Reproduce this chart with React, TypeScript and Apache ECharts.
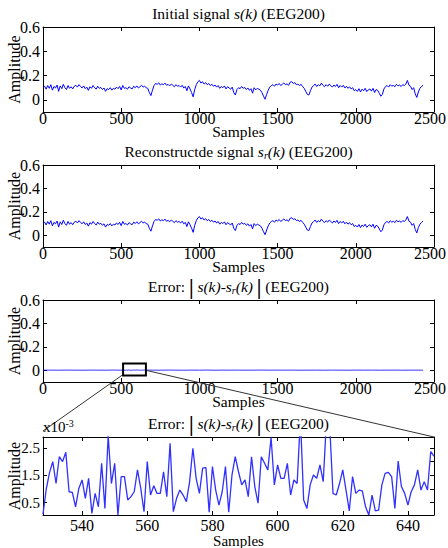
import React, { useEffect, useRef } from 'react';
import * as echarts from 'echarts';

const FONT = "'Liberation Serif', 'Times New Roman', serif";

// Initial signal s(k), one value every SIGNAL_STEP samples
const SIGNAL_STEP = 10;
const initialSignal = [
  0.100, 0.112, 0.088, 0.118, 0.095, 0.125, 0.080, 0.110, 0.098, 0.122,
  0.070, 0.115, 0.092, 0.128, 0.100, 0.085, 0.118, 0.095, 0.108, 0.090,
  0.112, 0.120, 0.105, 0.125, 0.110, 0.098, 0.115, 0.092, 0.105, 0.078,
  0.108, 0.095, 0.118, 0.100, 0.088, 0.112, 0.095, 0.102, 0.085, 0.098,
  0.070, 0.092, 0.085, 0.100, 0.080, 0.095, 0.088, 0.105, 0.092, 0.110,
  0.082, 0.118, 0.095, 0.100, 0.088, 0.108, 0.098, 0.090, 0.112, 0.100,
  0.115, 0.098, 0.108, 0.120, 0.105, 0.112, 0.100, 0.095, 0.060, 0.035,
  0.080, 0.118, 0.135, 0.128, 0.140, 0.122, 0.132, 0.125, 0.138, 0.120,
  0.128, 0.115, 0.130, 0.120, 0.108, 0.125, 0.112, 0.118, 0.105, 0.120,
  0.098, 0.110, 0.075, 0.115, 0.090, 0.060, 0.025, 0.085, 0.125, 0.148,
  0.160, 0.138, 0.150, 0.130, 0.142, 0.125, 0.135, 0.118, 0.128, 0.112,
  0.122, 0.105, 0.118, 0.095, 0.110, 0.100, 0.115, 0.090, 0.108, 0.098,
  0.088, 0.105, 0.060, 0.040, 0.085, 0.100, 0.092, 0.110, 0.095, 0.102,
  0.085, 0.098, 0.078, 0.092, 0.055, 0.100, 0.082, 0.095, 0.088, 0.080,
  0.060, 0.030, 0.005, 0.045, 0.080, 0.105, 0.118, 0.125, 0.112, 0.130,
  0.122, 0.135, 0.118, 0.128, 0.140, 0.125, 0.132, 0.120, 0.145, 0.150,
  0.135, 0.142, 0.125, 0.130, 0.118, 0.128, 0.110, 0.095, 0.070, 0.045,
  0.040, 0.075, 0.105, 0.118, 0.130, 0.110, 0.125, 0.115, 0.138, 0.120,
  0.108, 0.125, 0.112, 0.130, 0.118, 0.105, 0.122, 0.110, 0.128, 0.100,
  0.118, 0.105, 0.120, 0.098, 0.112, 0.095, 0.108, 0.090, 0.100, 0.075,
  0.085, 0.070, 0.092, 0.065, 0.088, 0.075, 0.095, 0.068, 0.082, 0.090,
  0.072, 0.095, 0.060, 0.085, 0.078, 0.055, 0.030, 0.045, 0.090, 0.110,
  0.118, 0.105, 0.125, 0.112, 0.120, 0.108, 0.128, 0.115, 0.122, 0.110,
  0.125, 0.118, 0.130, 0.160, 0.120, 0.112, 0.085, 0.100, 0.050, 0.020,
  0.065, 0.095, 0.110, 0.120,
];
// Reconstructed signal s_r(k): indistinguishable from s(k) at this scale
const reconstructedSignal = initialSignal;

// Error |s(k)-s_r(k)| overview, in units of 1e-3, every 50 samples
const ERROR_OVERVIEW_STEP = 50;
const errorOverviewMilli = [
  0.9, 1.4, 0.6, 1.8, 1.1, 0.7, 1.5, 1.2, 0.8, 1.9,
  1.0, 1.3, 0.5, 1.6, 1.1, 0.9, 1.7, 1.2, 0.6, 1.4,
  1.0, 1.8, 0.7, 1.3, 1.1, 1.5, 0.8, 1.2, 1.9, 0.9,
  1.4, 1.0, 1.6, 0.7, 1.2, 1.3, 0.8, 1.5, 1.1, 0.6,
  1.7, 1.0, 1.4, 0.9, 1.2, 1.6, 0.8, 1.3, 1.1,
];
const errorLastSample = 2430;
const errorLastMilli = 1.0;

// Zoomed error, samples 528..648, units of 1e-3
const ZOOM_START = 528;
const errorZoomMilli = [
  0.08, 1.0, 1.6, 2.0, 1.2, 2.18, 2.0, 2.34, 0.9, 0.88,
  0.35, 1.02, 1.33, 0.66, 1.39, 0.11, 0.84, 0.35, 1.94, 0.29,
  2.95, 1.2, 1.94, 0.05, 1.45, 1.45, 0.6, 0.72, 0.9, 1.7,
  1.02, 0.17, 2.0, 0.78, 1.12, 0.84, 0.84, 1.63, 0.72, 2.67,
  0.17, 0.66, 0.96, 0.78, 0.54, 1.27, 2.49, 1.39, 0.84, 1.76,
  1.78, 0.15, 1.82, 0.96, 0.41, 0.9, 1.82, 0.15, 1.51, 2.18,
  1.63, 1.15, 1.33, 0.72, 2.18, 1.09, 0.48, 2.18, 1.94, 1.7,
  2.88, 1.15, 1.88, 1.39, 1.39, 1.94, 0.78, 1.33, 1.2, 3.6,
  0.6, 0.29, 1.15, 1.51, 1.39, 1.88, 1.27, 3.5, 3.3, 0.84,
  0.78, 1.2, 1.7, 0.96, 0.2, 1.45, 0.84, 0.96, 0.93, 0.35,
  0.05, 0.78, 0.2, 0.23, 1.15, 1.57, 1.61, 1.45, 0.29, 2.02,
  1.09, 0.84, 0.41, 0.9, 1.15, 1.7, 0.96, 1.27, 0.96, 2.37,
  2.2,
];

const xTicksFull = [0, 500, 1000, 1500, 2000, 2500];
const yTicksFull = [0, 0.2, 0.4, 0.6];
const xTicksZoom = [540, 560, 580, 600, 620, 640];
const yTicksZoom = [0.5, 1, 1.5, 2, 2.5];

// region of panel 3 outlined by the zoom box (data units)
const zoomBox = { x0: 512, x1: 658, y0: -0.045, y1: 0.058 };

const titleTexts = [
  '{n|Initial signal }{it|s(k)}{n| (EEG200)}',
  '{n|Reconstructde signal }{it|s}{sub|r}{it|(k)}{n| (EEG200)}',
  '{n|Error: }{bar||}{n| }{it|s(k)-s}{sub|r}{it|(k)}{n| }{bar||}{n| (EEG200)}',
  '{n|Error: }{bar||}{n| }{it|s(k)-s}{sub|r}{it|(k)}{n| }{bar||}{n| (EEG200)}',
];

const grids = [
  { left: 43, top: 27, width: 391, height: 85 },
  { left: 43, top: 165, width: 391, height: 82 },
  { left: 43, top: 300, width: 391, height: 82 },
  { left: 43, top: 437, width: 391, height: 78 },
];

const titleRich = {
  n: { fontFamily: FONT, fontSize: 15.5, fill: '#000', lineHeight: 15 },
  it: { fontFamily: FONT, fontSize: 15.5, fontStyle: 'italic', fill: '#000', lineHeight: 15 },
  sub: { fontFamily: FONT, fontSize: 10, fontStyle: 'italic', fill: '#000', lineHeight: 9, padding: [7, 0, 0, 0] },
  bar: { fontFamily: FONT, fontSize: 21, fontWeight: 'bold', fill: '#000', lineHeight: 15 },
};

function buildAxes(i: number, xmin: number, xmax: number, xt: number[], ymin: number, ymax: number, yt: number[],
  labelMargin: number, nameGap: number, yFmt: (v: number) => string, yFont: number, yLineHeight: number, nameFont: number) {
  const line = { show: true, onZero: false, lineStyle: { color: '#000', width: 1 } };
  const tick = (vals: number[]) => ({ show: true, inside: true, length: 4, customValues: vals, lineStyle: { color: '#000', width: 1 } });
  const lbl = { color: '#000', fontFamily: FONT, fontSize: 16, showMinLabel: true, showMaxLabel: true, hideOverlap: false };
  const x = [
    {
      type: 'value', gridIndex: i, min: xmin, max: xmax, position: 'bottom',
      axisLine: line, axisTick: tick(xt), splitLine: { show: false },
      axisLabel: {
        ...lbl, customValues: xt, margin: labelMargin, lineHeight: 13,
        formatter: (v: number) => (v === 2500 ? '{e|' + v + '}' : String(v)),
        rich: { e: { fontFamily: FONT, fontSize: 16, color: '#000', lineHeight: 13, padding: [0, 8, 0, 0] } },
      },
      name: 'Samples', nameLocation: 'middle', nameGap, nameMoveOverlap: false,
      nameTextStyle: { color: '#000', fontFamily: FONT, fontSize: nameFont, lineHeight: 12 },
    },
    {
      type: 'value', gridIndex: i, min: xmin, max: xmax, position: 'top',
      axisLine: line, axisTick: tick(xt), splitLine: { show: false }, axisLabel: { show: false },
    },
  ];
  const y = [
    {
      type: 'value', gridIndex: i, min: ymin, max: ymax, position: 'left',
      axisLine: line, axisTick: tick(yt), splitLine: { show: false },
      axisLabel: { ...lbl, fontSize: yFont, customValues: yt, margin: 3, lineHeight: yLineHeight, formatter: yFmt },
      name: 'Amplitude', nameLocation: 'middle', nameGap: 22, nameMoveOverlap: false,
      nameTextStyle: { color: '#000', fontFamily: FONT, fontSize: 16, lineHeight: 14 },
    },
    {
      type: 'value', gridIndex: i, min: ymin, max: ymax, position: 'right',
      axisLine: line, axisTick: tick(yt), splitLine: { show: false }, axisLabel: { show: false },
    },
  ];
  return { x, y };
}

export default function App() {
  const ref = useRef<HTMLDivElement>(null);
  useEffect(() => {
    if (!ref.current) return;
    const chart = echarts.init(ref.current, null, { renderer: 'svg' });

    const fullFmt = (v: number) => (v === 0 ? '0' : v.toFixed(1));
    const zoomFmt = (v: number) => String(Math.round(v * 10) / 10);

    const a0 = buildAxes(0, 0, 2500, xTicksFull, -0.1, 0.6, yTicksFull, 0, 13, fullFmt, 16, 14, 15.5);
    const a1 = buildAxes(1, 0, 2500, xTicksFull, -0.1, 0.6, yTicksFull, 0, 13, fullFmt, 16, 14, 15.5);
    const a2 = buildAxes(2, 0, 2500, xTicksFull, -0.1, 0.6, yTicksFull, 0, 13, fullFmt, 16, 14, 15.5);
    const a3 = buildAxes(3, ZOOM_START, ZOOM_START + errorZoomMilli.length - 1, xTicksZoom, 0.05, 2.9, yTicksZoom, 4, 20, zoomFmt, 15, 12, 15);

    const sPts = initialSignal.map((v, i) => [i * SIGNAL_STEP, v]);
    const rPts = reconstructedSignal.map((v, i) => [i * SIGNAL_STEP, v]);
    const zoomEnd = ZOOM_START + errorZoomMilli.length - 1;
    const zoomPts = errorZoomMilli.map((v, i) => [ZOOM_START + i, v]);
    const errFull = [
      ...errorOverviewMilli.map((v, i) => [i * ERROR_OVERVIEW_STEP, v / 1000])
        .filter(([k]) => k < ZOOM_START || k > zoomEnd),
      ...zoomPts.map(([k, v]) => [k, v / 1000]),
      [errorLastSample, errorLastMilli / 1000],
    ].sort((a, b) => a[0] - b[0]);

    const line = (xi: number, yi: number, data: number[][], color: string, width: number) => ({
      type: 'line', xAxisIndex: xi, yAxisIndex: yi, data, showSymbol: false, symbol: 'none',
      clip: true, lineStyle: { color, width }, silent: true,
    });

    chart.setOption({
      animation: false,
      backgroundColor: '#fff',
      grid: grids.map((g) => ({ ...g, containLabel: false, outerBoundsMode: 'none', show: false })),
      xAxis: [...a0.x, ...a1.x, ...a2.x, ...a3.x],
      yAxis: [...a0.y, ...a1.y, ...a2.y, ...a3.y],
      series: [
        line(0, 0, sPts, '#0000ff', 1),
        line(2, 2, rPts, '#0000ff', 1),
        line(4, 4, errFull, '#0000ff', 0.8),
        line(6, 6, zoomPts, '#3030ff', 1.3),
      ],
    });

    const tl = chart.convertToPixel({ gridIndex: 2 }, [zoomBox.x0, zoomBox.y1]) as number[];
    const br = chart.convertToPixel({ gridIndex: 2 }, [zoomBox.x1, zoomBox.y0]) as number[];
    const rz = chart.convertToPixel({ gridIndex: 2 }, [zoomBox.x1, 0]) as number[];
    const g4 = grids[3];

    const graphic: any[] = titleTexts.map((t, i) => ({
      type: 'text', id: 'title' + i, x: grids[i].left + grids[i].width / 2, y: grids[i].top - 13.5, z: 100,
      style: { text: t, rich: titleRich, textAlign: 'center', textVerticalAlign: 'middle', fill: '#000' },
    }));
    graphic.push(
      {
        type: 'rect', id: 'zbox', z: 100,
        shape: { x: tl[0], y: tl[1], width: br[0] - tl[0], height: br[1] - tl[1] },
        style: { fill: 'none', stroke: '#000', lineWidth: 2 },
      },
      {
        type: 'line', id: 'zl', z: 99,
        shape: { x1: tl[0], y1: br[1] - 1, x2: g4.left, y2: g4.top - 6 },
        style: { stroke: '#333', lineWidth: 1 },
      },
      {
        type: 'line', id: 'zr', z: 99,
        shape: { x1: br[0], y1: rz[1], x2: g4.left + g4.width, y2: g4.top },
        style: { stroke: '#333', lineWidth: 1 },
      },
      {
        type: 'text', id: 'exp', x: g4.left, y: g4.top - 10, z: 100,
        style: {
          text: '{n|x10}{sup|-3}',
          rich: {
            n: { fontFamily: FONT, fontSize: 15, fill: '#000' },
            sup: { fontFamily: FONT, fontSize: 10, fill: '#000', padding: [0, 0, 8, 0] },
          },
          textAlign: 'left', textVerticalAlign: 'middle', fill: '#000',
        },
      },
    );
    chart.setOption({ graphic });

    return () => chart.dispose();
  }, []);
  return <div ref={ref} style={{ position: 'absolute', left: 0, top: 0, width: 448, height: 548, background: '#fff' }} />;
}
